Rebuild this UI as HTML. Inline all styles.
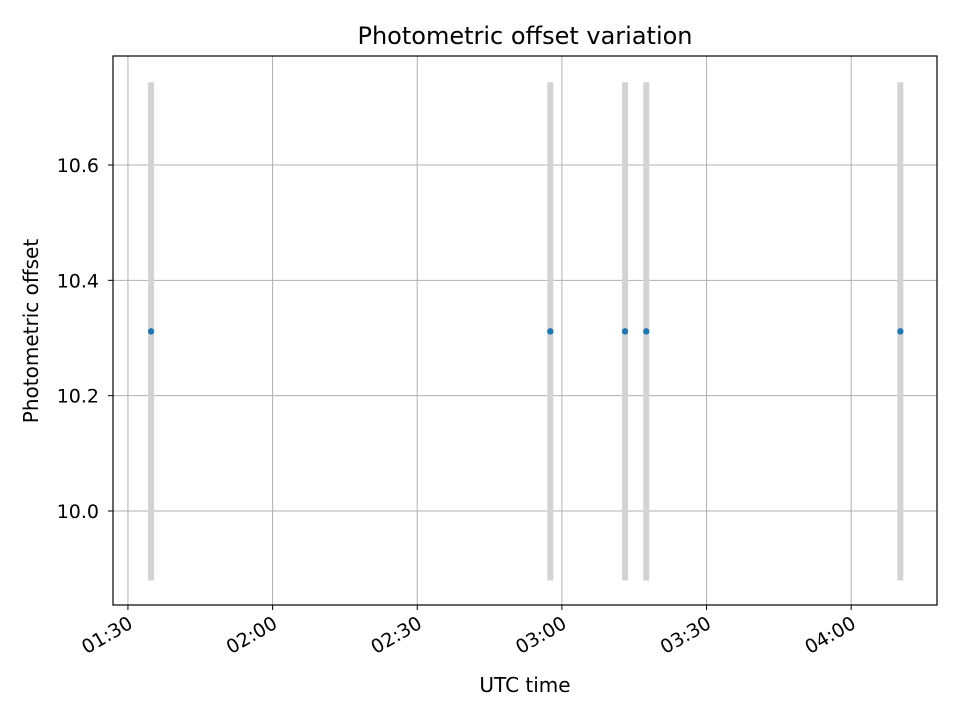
<!DOCTYPE html>
<html><head><meta charset="utf-8"><style>
html,body{margin:0;padding:0;background:#fff;}
svg{display:block;font-family:"DejaVu Sans","Liberation Sans",sans-serif;}
</style></head><body>
<svg id="chart" width="960" height="720" viewBox="0 0 960 720">
<rect width="960" height="720" fill="#fff"/>
<text x="525" y="44" text-anchor="middle" style="font-size:24px">Photometric offset variation</text>
<g id="grid"></g>
<g id="bars"></g>
<g id="points"></g>
<g id="xticks"></g>
<g id="yticks"></g>
<rect x="113" y="56" width="824" height="549" fill="none" stroke="#000" stroke-width="1.2"/>
<text x="525" y="692" text-anchor="middle" style="font-size:20px">UTC time</text>
<text transform="translate(38,331) rotate(-90)" text-anchor="middle" style="font-size:20px">Photometric offset</text>
</svg>
<script>
// times in minutes since 01:30 UTC
const times = [4.8, 87.6, 103.1, 107.5, 160.2];
const offsets = [10.3115, 10.3115, 10.3115, 10.3115, 10.3115];
const errors = [0.432, 0.432, 0.432, 0.432, 0.432];
const xTickValues = [0, 30, 60, 90, 120, 150];
const xTickLabels = ["01:30", "02:00", "02:30", "03:00", "03:30", "04:00"];
const yTickValues = [10.0, 10.2, 10.4, 10.6];
const yTickLabels = ["10.0", "10.2", "10.4", "10.6"];

const L=113,R=937,T=56,B=605;
const xMin=-3.1,xMax=167.8,yMin=9.837,yMax=10.789;
const xs=v=>L+(v-xMin)/(xMax-xMin)*(R-L);
const ys=v=>B-(v-yMin)/(yMax-yMin)*(B-T);
const NS="http://www.w3.org/2000/svg";
function mk(tag,attrs,parent){const e=document.createElementNS(NS,tag);for(const k in attrs)e.setAttribute(k,attrs[k]);parent.appendChild(e);return e;}
const grid=document.getElementById('grid'),bars=document.getElementById('bars'),pts=document.getElementById('points'),xt=document.getElementById('xticks'),yt=document.getElementById('yticks');
xTickValues.forEach((v,i)=>{
  const x=xs(v);
  const g=mk('line',{x1:x,x2:x,y1:T,y2:B,stroke:'#b0b0b0','stroke-width':1},grid);
  
  
  const t=mk('line',{x1:x,x2:x,y1:B,y2:B+5,stroke:'#000','stroke-width':1},xt);
  
  
  const l=mk('text',{x:0,y:0,style:'font-size:19px','text-anchor':'end',transform:`translate(${x+6},${B+22}) rotate(-30)`},xt);
  l.textContent=xTickLabels[i];
  
  
});
yTickValues.forEach((v,i)=>{
  const y=ys(v);
  const g=mk('line',{x1:L,x2:R,y1:y,y2:y,stroke:'#b0b0b0','stroke-width':1},grid);
  
  
  const t=mk('line',{x1:L-5,x2:L,y1:y,y2:y,stroke:'#000','stroke-width':1},yt);
  
  
  const l=mk('text',{x:L-14,y:y+7,style:'font-size:19px','text-anchor':'end'},yt);
  l.textContent=yTickLabels[i];
  
  
});
times.forEach((v,i)=>{
  const x=xs(v);
  const b=mk('line',{x1:x,x2:x,y1:ys(offsets[i]+errors[i]),y2:ys(offsets[i]-errors[i]),stroke:'#d3d3d3','stroke-width':6},bars);
  
  
  const c=mk('circle',{cx:x,cy:ys(offsets[i]),r:3.2,fill:'#1f77b4'},pts);
  
  
});
</script>
</body></html>
